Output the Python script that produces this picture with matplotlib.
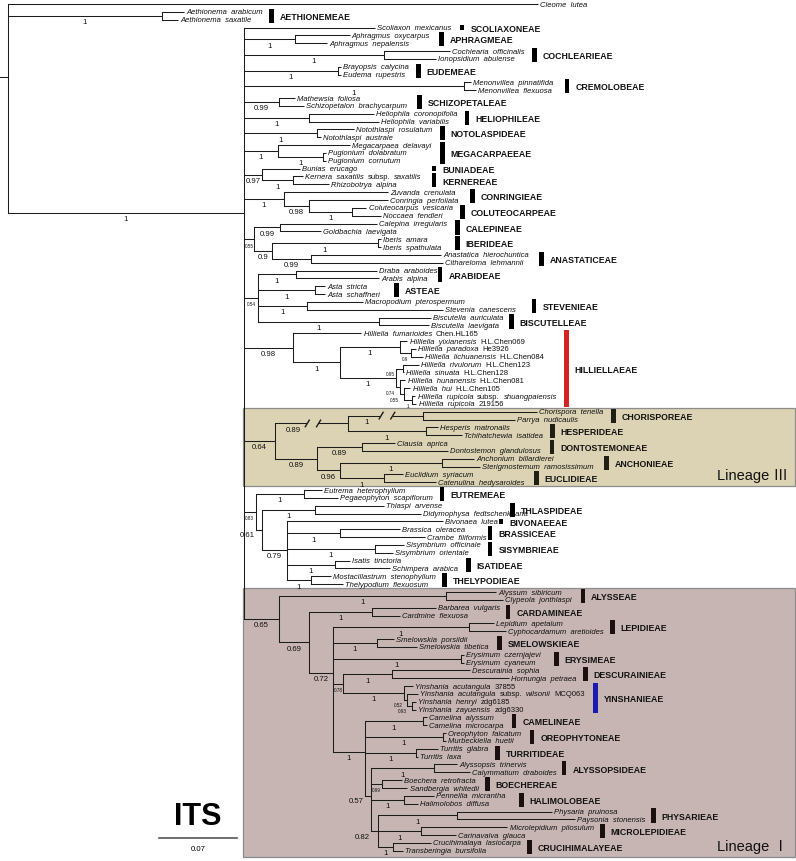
import matplotlib
matplotlib.use('Agg')
import matplotlib.pyplot as plt
from matplotlib.patches import Rectangle

plt.rcParams['font.family'] = ['Liberation Sans', 'DejaVu Sans']

# ---- tree data (Newick pieces, branch lengths in substitutions/site) ----
CLEOME = "'Cleome lutea':0.4770"
AETHIONEMA = "('Aethionema arabicum':0.0198,'Aethionema saxatile':0.0144)1:0.1386"

SCOLIAXON = "'Scoliaxon mexicanus':0.1179"
APHRAGMUS = "('Aphragmus oxycarpus':0.0491,'Aphragmus nepalensis':0.0288)1:0.0459"
COCHLEARIA = "('Cochlearia officinalis':0.0594,'Ionopsidium abulense':0.0473)1:0.1256"
EUDEMA = "('Brayopsis calycina':0.0029,'Eudema rupestris':0.0029)1:0.0844"
MENONVILLEA = "('Menonvillea pinnatifida':0.0068,'Menonvillea flexuosa':0.0113)1:0.1976"
SCHIZOPETALON = "('Mathewsia foliosa':0.0145,'Schizopetalon brachycarpum':0.0226)0.99:0.0314"
HELIOPHILA = "('Heliophila coronopifolia':0.0585,'Heliophila variabilis':0.0634)1:0.0581"
NOTOTHLASPI = "('Notothlaspi rosulatum':0.0329,'Notothlaspi australe':0.0032)1:0.0661"
MEGACARPAEA = ("('Megacarpaea delavayi':0.0648,('Pugionium dolabratum':0.0030,"
               "'Pugionium cornutum':0.0030)1:0.0403)1:0.0306")
BUNIAS = ("('Bunias erucago':0.0338,('Kernera saxatilis subsp. saxatilis':0.0088,"
          "'Rhizobotrya alpina':0.0323)1:0.0279)0.97:0.0162")
CONRINGIA = ("('Zuvanda crenulata':0.0939,('Conringia perfoliata':0.0707,"
             "('Coluteocarpus vesicaria':0.0130,'Noccaea fendleri':0.0257)1:0.0385)0.98:0.0231)1:0.0356")
CALEPINA = ("(('Calepina irregularis':0.0873,'Goldbachia laevigata':0.0365)0.99:0.0235,"
            "(('Iberis amara':0.0023,'Iberis spathulata':0.0027)1:0.0957,"
            "('Anastatica hierochuntica':0.1170,'Cithareloma lehmannii':0.1188)0.99:0.0354)0.9:0.0160)0.55:0.0089")
ARABIS = ("(('Draba araboides':0.0729,'Arabis alpina':0.0747)1:0.0342,"
          "('Asta stricta':0.0094,'Asta schaffneri':0.0094)1:0.0509,"
          "('Macropodium pterospermum':0.0505,'Stevenia canescens':0.1227)1:0.0438,"
          "('Biscutella auriculata':0.0465,'Biscutella laevigata':0.0450)1:0.1088)0.54:0.0126")
HILLIELLA = ("('Hilliella fumarioides Chen.HL165':0.0616,"
             "(('Hilliella yixianensis H.L.Chen069':0.0071,('Hilliella paradoxa He3926':0.0041,"
             "'Hilliella lichuanensis H.L.Chen084':0.0104)0.9:0.0103)1:0.0540,"
             "(('Hilliella rivulorum H.L.Chen123':0.0144,'Hilliella sinuata H.L.Chen128':0.0009)0.95:0.0063,"
             "('Hilliella hunanensis H.L.Chen081':0.0053,('Hilliella hui H.L.Chen105':0.0057,"
             "('Hilliella rupicola subsp. shuangpaiensis':0.0035,'Hilliella rupicola 219156':0.0044)1:0.0068)"
             "0.55:0.0040)0.74:0.0032)1:0.0508)1:0.0419)0.98:0.0441")
LINEAGE_III = ("((('Chorispora tenella':0.1026,'Parrya nudicaulis':0.0828)1:0.0675,"
               "('Hesperis matronalis':0.0108,'Tchihatchewia isatidea':0.0324)1:0.0702)0.89:0.0657,"
               "(('Clausia aprica':0.0297,'Dontostemon glandulosus':0.0774)0.89:0.0405,"
               "(('Anchonium billardierei':0.0288,'Sterigmostemum ramosissimum':0.0342)1:0.0918,"
               "('Euclidium syriacum':0.0171,'Catenulina hedysaroides':0.0468)1:0.0396)0.96:0.0207)0.89:0.0378)0.64:0.0279")
LINEAGE_II = ("(('Eutrema heterophyllum':0.0160,'Pegaeophyton scapiflorum':0.0305)1:0.0435,"
              "(('Thlaspi arvense':0.0625,'Didymophysa fedtschenkoana':0.0955)1:0.0476,"
              "('Bivonaea lutea':0.1404,('Brassica oleracea':0.0544,'Crambe filiformis':0.0769)1:0.0473,"
              "('Sisymbrium officinale':0.0261,'Sisymbrium orientale':0.0162)1:0.0792,"
              "('Isatis tinctoria':0.0135,'Schimpera arabica':0.0491)1:0.0432,"
              "('Mostacillastrum stenophyllum':0.0176,'Thelypodium flexuosum':0.0288)1:0.0216)0.79:0.0228)"
              "0.61:0.0055)0.83:0.0104")
LINEAGE_I = ("(('Alyssum sibiricum':0.0450,'Clypeola jonthlaspi':0.0513)1:0.1503,"
             "(('Barbarea vulgaris':0.0576,'Cardmine flexuosa':0.0252)1:0.0567,"
             "(('Lepidium apetalum':0.0225,'Cyphocardamum aretioides':0.0333)1:0.1224,"
             "('Smelowskia porsildii':0.0153,'Smelowskia tibetica':0.0360)1:0.0396,"
             "('Erysimum czernjajevi':0.0027,'Erysimum cyaneum':0.0027)1:0.1152,"
             "(('Descurainia sophia':0.0707,'Hornungia petraea':0.1058)1:0.0437,"
             "('Yinshania acutangula 37855':0.0081,('Yinshania acutangula subsp. wilsonii MCQ063':0.0095,"
             "('Yinshania henryi zdg6185':0.0039,'Yinshania zayuensis zdg6330':0.0039)0.93:0.0039)0.52:0.0031)"
             "1:0.0549)0.78:0.0090,"
             "(('Camelina alyssum':0.0032,'Camelina microcarpa':0.0032)1:0.0530,"
             "('Oreophyton falcatum':0.0027,'Murbeckiella huetii':0.0027)1:0.0706,"
             "('Turritis glabra':0.0196,'Turritis laxa':0.0018)1:0.0463,"
             "(('Alyssopsis trinervis':0.0211,'Calymmatium draboides':0.0324)1:0.0567,"
             "('Boechera retrofracta':0.0176,'Sandbergia whitedii':0.0225)0.99:0.0103,"
             "('Pennellia micrantha':0.0270,'Halimolobos diffusa':0.0126)1:0.0296,"
             "(('Physaria pruinosa':0.0851,'Paysonia stonensis':0.1058)1:0.0715,"
             "('Microlepidium pilosulum':0.0778,'Carinavalva glauca':0.0311)1:0.0387,"
             "('Crucihimalaya lasiocarpa':0.0338,'Transberingia bursifolia':0.0090)1:0.0135)0.82:0.0063)"
             "0.57:0.0058)1:0.0284)0.72:0.0216)0.69:0.0270)0.65:0.0315")

CORE_CLADES = [SCOLIAXON, APHRAGMUS, COCHLEARIA, EUDEMA, MENONVILLEA, SCHIZOPETALON,
               HELIOPHILA, NOTOTHLASPI, MEGACARPAEA, BUNIAS, CONRINGIA, CALEPINA, ARABIS,
               HILLIELLA, LINEAGE_III, LINEAGE_II, LINEAGE_I]
CORE_SUPPORT = "1"
CORE_LENGTH = 0.2124
TREE = "(%s,%s,(%s)%s:%.4f);" % (CLEOME, AETHIONEMA, ",".join(CORE_CLADES), CORE_SUPPORT, CORE_LENGTH)

# tribes: name, first taxon, last taxon, bar position (x), bar colour
TRIBES = [
    ("AETHIONEMEAE", "Aethionema arabicum", "Aethionema saxatile", 0.2349, "k"),
    ("SCOLIAXONEAE", "Scoliaxon mexicanus", "Scoliaxon mexicanus", 0.4068, "k"),
    ("APHRAGMEAE", "Aphragmus oxycarpus", "Aphragmus nepalensis", 0.3879, "k"),
    ("COCHLEARIEAE", "Cochlearia officinalis", "Ionopsidium abulense", 0.4716, "k"),
    ("EUDEMEAE", "Brayopsis calycina", "Eudema rupestris", 0.3672, "k"),
    ("CREMOLOBEAE", "Menonvillea pinnatifida", "Menonvillea flexuosa", 0.5009, "k"),
    ("SCHIZOPETALEAE", "Mathewsia foliosa", "Schizopetalon brachycarpum", 0.3681, "k"),
    ("HELIOPHILEAE", "Heliophila coronopifolia", "Heliophila variabilis", 0.4109, "k"),
    ("NOTOLASPIDEAE", "Notothlaspi rosulatum", "Notothlaspi australe", 0.3888, "k"),
    ("MEGACARPAEEAE", "Megacarpaea delavayi", "Pugionium cornutum", 0.3888, "k"),
    ("BUNIADEAE", "Bunias erucago", "Bunias erucago", 0.3813, "k"),
    ("KERNEREAE", "Kernera saxatilis subsp. saxatilis", "Rhizobotrya alpina", 0.3813, "k"),
    ("CONRINGIEAE", "Zuvanda crenulata", "Conringia perfoliata", 0.4158, "k"),
    ("COLUTEOCARPEAE", "Coluteocarpus vesicaria", "Noccaea fendleri", 0.4068, "k"),
    ("CALEPINEAE", "Calepina irregularis", "Goldbachia laevigata", 0.4023, "k"),
    ("IBERIDEAE", "Iberis amara", "Iberis spathulata", 0.4023, "k"),
    ("ANASTATICEAE", "Anastatica hierochuntica", "Cithareloma lehmannii", 0.4779, "k"),
    ("ARABIDEAE", "Draba araboides", "Arabis alpina", 0.3868, "k"),
    ("ASTEAE", "Asta stricta", "Asta schaffneri", 0.3474, "k"),
    ("STEVENIEAE", "Macropodium pterospermum", "Stevenia canescens", 0.4713, "k"),
    ("BISCUTELLEAE", "Biscutella auriculata", "Biscutella laevigata", 0.4509, "k"),
    ("HILLIELLAEAE", "Hilliella fumarioides Chen.HL165", "Hilliella rupicola 219156", 0.5004, "#d42323"),
    ("CHORISPOREAE", "Chorispora tenella", "Parrya nudicaulis", 0.5427, "#201f15"),
    ("HESPERIDEAE", "Hesperis matronalis", "Tchihatchewia isatidea", 0.4878, "#201f15"),
    ("DONTOSTEMONEAE", "Clausia aprica", "Dontostemon glandulosus", 0.4874, "#201f15"),
    ("ANCHONIEAE", "Anchonium billardierei", "Sterigmostemum ramosissimum", 0.5364, "#201f15"),
    ("EUCLIDIEAE", "Euclidium syriacum", "Catenulina hedysaroides", 0.4734, "#201f15"),
    ("EUTREMEAE", "Eutrema heterophyllum", "Pegaeophyton scapiflorum", 0.3884, "k"),
    ("THLASPIDEAE", "Thlaspi arvense", "Didymophysa fedtschenkoana", 0.4518, "k"),
    ("BIVONAEEAE", "Bivonaea lutea", "Bivonaea lutea", 0.4415, "k"),
    ("BRASSICEAE", "Brassica oleracea", "Crambe filiformis", 0.4318, "k"),
    ("SISYMBRIEAE", "Sisymbrium officinale", "Sisymbrium orientale", 0.4318, "k"),
    ("ISATIDEAE", "Isatis tinctoria", "Schimpera arabica", 0.4122, "k"),
    ("THELYPODIEAE", "Mostacillastrum stenophyllum", "Thelypodium flexuosum", 0.3910, "k"),
    ("ALYSSEAE", "Alyssum sibiricum", "Clypeola jonthlaspi", 0.5153, "#1a1010"),
    ("CARDAMINEAE", "Barbarea vulgaris", "Cardmine flexuosa", 0.4478, "#1a1010"),
    ("LEPIDIEAE", "Lepidium apetalum", "Cyphocardamum aretioides", 0.5418, "#1a1010"),
    ("SMELOWSKIEAE", "Smelowskia porsildii", "Smelowskia tibetica", 0.4401, "#1a1010"),
    ("ERYSIMEAE", "Erysimum czernjajevi", "Erysimum cyaneum", 0.4913, "#1a1010"),
    ("DESCURAINIEAE", "Descurainia sophia", "Hornungia petraea", 0.5175, "#1a1010"),
    ("YINSHANIEAE", "Yinshania acutangula 37855", "Yinshania zayuensis zdg6330", 0.5265, "#1a1ab0"),
    ("CAMELINEAE", "Camelina alyssum", "Camelina microcarpa", 0.4533, "#1a1010"),
    ("OREOPHYTONEAE", "Oreophyton falcatum", "Murbeckiella huetii", 0.4694, "#1a1010"),
    ("TURRITIDEAE", "Turritis glabra", "Turritis laxa", 0.4383, "#1a1010"),
    ("ALYSSOPSIDEAE", "Alyssopsis trinervis", "Calymmatium draboides", 0.4983, "#1a1010"),
    ("BOECHEREAE", "Boechera retrofracta", "Sandbergia whitedii", 0.4293, "#1a1010"),
    ("HALIMOLOBEAE", "Pennellia micrantha", "Halimolobos diffusa", 0.4599, "#1a1010"),
    ("PHYSARIEAE", "Physaria pruinosa", "Paysonia stonensis", 0.5787, "#1a1010"),
    ("MICROLEPIDIEAE", "Microlepidium pilosulum", "Carinavalva glauca", 0.5328, "#1a1010"),
    ("CRUCIHIMALAYEAE", "Crucihimalaya lasiocarpa", "Transberingia bursifolia", 0.4671, "#1a1010"),
]

# lineage boxes: label, first taxon, last taxon, colour
LINEAGES = [
    ("Lineage \u2162", "Chorispora tenella", "Catenulina hedysaroides", "#dbd3b3"),
    ("Lineage \u2160", "Alyssum sibiricum", "Transberingia bursifolia", "#c6b5b3"),
]

# supports drawn in small type (keyed by first taxon of the clade)
SMALL_SUPPORT = {
    "Calepina irregularis": "0.55", "Draba araboides": "0.54", "Eutrema heterophyllum": "0.83",
    "Hilliella paradoxa He3926": "0.9", "Hilliella rivulorum H.L.Chen123": "0.95",
    "Hilliella hunanensis H.L.Chen081": "0.74", "Hilliella hui H.L.Chen105": "0.55",
    "Hilliella rupicola subsp. shuangpaiensis": "1",
    "Yinshania acutangula subsp. wilsonii MCQ063": "0.52", "Yinshania henryi zdg6185": "0.93",
    "Descurainia sophia": "0.78", "Boechera retrofracta": "0.99",
}
BROKEN_BRANCH = "Chorispora tenella"   # stem shortened with // marks
SCALE_BAR = 0.07


def parse_newick(s):
    pos = 0

    def node():
        nonlocal pos
        n = {'children': [], 'name': '', 'support': '', 'length': 0.0}
        if s[pos] == '(':
            pos += 1
            while True:
                c = node()
                c['parent'] = n
                n['children'].append(c)
                if s[pos] == ',':
                    pos += 1
                    continue
                pos += 1  # ')'
                break
        if s[pos] == "'":
            end = s.index("'", pos + 1)
            label = s[pos + 1:end]
            pos = end + 1
        else:
            start = pos
            while s[pos] not in ':,);':
                pos += 1
            label = s[start:pos]
        if n['children']:
            n['support'] = label
        else:
            n['name'] = label
        if s[pos] == ':':
            pos += 1
            start = pos
            while s[pos] not in ',);':
                pos += 1
            n['length'] = float(s[start:pos])
        return n

    return node()


root = parse_newick(TREE)
leaves = []


def layout(n, x):
    n['x'] = x
    if not n['children']:
        n['y'] = len(leaves)
        leaves.append(n)
        return
    for c in n['children']:
        layout(c, x + c['length'])
    n['y'] = sum(c['y'] for c in n['children']) / len(n['children'])


layout(root, 0.0)
leaf_idx = {lf['name']: i for i, lf in enumerate(leaves)}


def first_leaf(n):
    while n['children']:
        n = n['children'][0]
    return n['name']


fig = plt.figure(figsize=(7.96, 8.62), dpi=100)
ax = fig.add_axes([0, 0, 1, 1])
ax.set_xlim(-0.0072, 0.7092)
ax.set_ylim(109.31, -0.638)
ax.axis('off')

LC = '#1c1c1c'
LW = 0.75
XR = 0.7083
TAXON_FS = 5.5

# lineage boxes
core = root['children'][2]
for label, a, b, col in LINEAGES:
    y0 = leaf_idx[a] - 0.5
    y1 = leaf_idx[b] + (0.85 if b == leaves[-1]['name'] else 0.5)
    ax.add_patch(Rectangle((core['x'] - 0.0009, y0), XR - core['x'] + 0.0009, y1 - y0,
                           facecolor=col, edgecolor='#8c8c8c', lw=0.9, zorder=0))
    ax.text(XR - 0.0066, y1 - 1.45, label, fontsize=10.5, ha='right', va='center',
            family=['Liberation Sans', 'Noto Sans CJK SC'], color='#111111')

# branches
def draw(n):
    for c in n['children']:
        y = c['y']
        if first_leaf(c) == BROKEN_BRANCH and c['children'] and n is not root and c['length'] > 0.05:
            L = c['length']
            g0, g1 = n['x'] + 0.43 * L, n['x'] + 0.60 * L
            ax.plot([n['x'], g0], [y, y], color=LC, lw=LW)
            ax.plot([g1, c['x']], [y, y], color=LC, lw=LW)
            for gx in (g0 - 0.001, g1 - 0.002):
                ax.plot([gx, gx + 0.0036], [y + 0.42, y - 0.42], color=LC, lw=1.0)
        else:
            ax.plot([n['x'], c['x']], [y, y], color=LC, lw=LW, solid_capstyle='butt')
        draw(c)
    if n['children']:
        ys = [c['y'] for c in n['children']]
        ax.plot([n['x'], n['x']], [min(ys), max(ys)], color=LC, lw=LW)


draw(root)
ax.plot([root['x'] - 0.0072, root['x']], [root['y'], root['y']], color=LC, lw=LW)

# support values
def supports(n):
    for c in n['children']:
        if c['children'] and c['support']:
            small = SMALL_SUPPORT.get(first_leaf(c)) == c['support']
            fs = 3.3 if small else 5.6
            L = c['length']
            if first_leaf(c) == BROKEN_BRANCH and L > 0.05:
                ax.text(n['x'] + 0.25 * L, c['y'] + 0.75, c['support'], fontsize=fs,
                        ha='center', va='center', color='#111111')
            elif L < 0.0066:
                ax.text(n['x'] - 0.0009, c['y'] + 0.65, c['support'], fontsize=fs,
                        ha='right', va='center', color='#111111')
            else:
                ax.text((n['x'] + c['x']) / 2, c['y'] + 0.75, c['support'], fontsize=fs,
                        ha='center', va='center', color='#111111')
        supports(c)


supports(root)

# taxon labels (italic names, roman vouchers)
def segments(name):
    segs = []
    for w in name.split(' '):
        it = not (any(ch.isdigit() for ch in w) or w == 'subsp.')
        if segs and segs[-1][1] == it:
            segs[-1][0].append(w)
        else:
            segs.append([[w], it])
    return [('  '.join(ws), it) for ws, it in segs]


for lf in leaves:
    prev = None
    for text, it in segments(lf['name']):
        style = 'italic' if it else 'normal'
        if prev is None:
            prev = ax.annotate(text, xy=(lf['x'], lf['y']), xytext=(1.6, 0),
                               textcoords='offset points', fontsize=TAXON_FS, style=style,
                               ha='left', va='center', color='#111111')
        else:
            prev = ax.annotate(text, xy=(1, 0), xycoords=prev, xytext=(2.8, 0),
                               textcoords='offset points', fontsize=TAXON_FS, style=style,
                               ha='left', va='bottom', color='#111111')

# tribe bars + names
BAR_W = 0.0042
for name, a, b, bx, col in TRIBES:
    i0, i1 = leaf_idx[a], leaf_idx[b]
    if i0 == i1:
        y0, y1, w = i0 - 0.28, i0 + 0.28, 0.0039
    else:
        y0, y1, w = i0 - 0.4, i1 + 0.4, BAR_W
    ax.add_patch(Rectangle((bx, y0), w, y1 - y0, facecolor=col, edgecolor='none', zorder=3))
    ax.text(bx + BAR_W + 0.0054, (i0 + i1) / 2 + 0.08, name, fontsize=6.3, fontweight='bold',
            ha='left', va='center', color='#111111')

# scale bar
sb_x0 = 0.1359
sb_y = 106.38
ax.plot([sb_x0, sb_x0 + SCALE_BAR], [sb_y, sb_y], color='#555555', lw=1.2)
ax.text(sb_x0 + SCALE_BAR / 2, sb_y + 1.3, '%.2f' % SCALE_BAR, fontsize=5.6, ha='center', va='center')
ax.text(sb_x0 + SCALE_BAR / 2, sb_y - 2.8, 'ITS', fontsize=22, fontweight='bold', ha='center', va='center')

fig.savefig('out.png', dpi=100, facecolor='white')
